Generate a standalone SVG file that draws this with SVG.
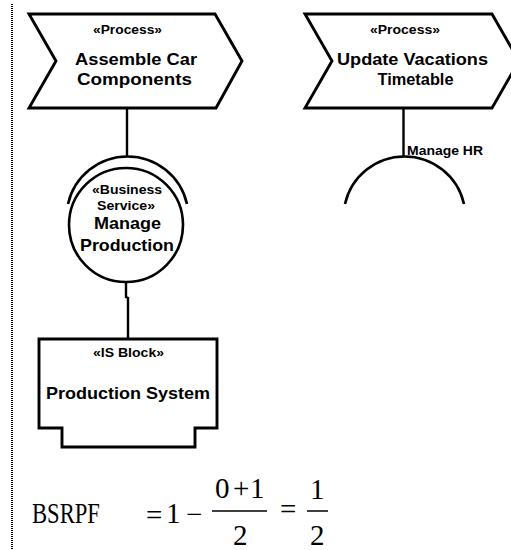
<svg xmlns="http://www.w3.org/2000/svg" width="511" height="550" viewBox="0 0 511 550">
  <style>
    .shape { fill: #ffffff; stroke: #000000; stroke-width: 2.9; stroke-linejoin: miter; }
    .ring { fill: none; stroke: #000000; stroke-width: 2.6; }
    .wire { fill: none; stroke: #000000; stroke-width: 2.4; }
    .st { font-family: "Liberation Sans", Arial, sans-serif; font-weight: bold; font-size: 12.5px; text-anchor: middle; fill: #000; }
    .nm { font-family: "Liberation Sans", Arial, sans-serif; font-weight: bold; font-size: 17px; text-anchor: middle; fill: #000; }
    .lbl { font-family: "Liberation Sans", Arial, sans-serif; font-weight: bold; font-size: 13.5px; fill: #000; }
    .math { font-family: "Liberation Serif", "Times New Roman", serif; font-size: 29px; fill: #000; }
    .bar { stroke: #000; stroke-width: 1.5; }
  </style>

  <!-- page margin -->
  <line x1="12" y1="4" x2="12" y2="550" stroke="#000" stroke-width="2" stroke-dasharray="1 1"/>

  <!-- connectors -->
  <g id="connectors">
    <line class="wire" x1="127" y1="108" x2="127" y2="156"/>
    <polyline class="wire" points="126,282 126,297 128,298 128,339"/>
    <line class="wire" x1="403.5" y1="108" x2="403.5" y2="156"/>
  </g>

  <!-- process: Assemble Car Components -->
  <g id="process-assemble">
    <polygon class="shape" points="29,14 215,14 242,61 216,108 29,108 56,61"/>
    <text class="st" x="127.5" y="34" textLength="69" lengthAdjust="spacingAndGlyphs">«Process»</text>
    <text class="nm" x="136" y="65" textLength="122" lengthAdjust="spacingAndGlyphs">Assemble Car</text>
    <text class="nm" x="134.5" y="84.5" textLength="115" lengthAdjust="spacingAndGlyphs">Components</text>
  </g>

  <!-- process: Update Vacations Timetable -->
  <g id="process-vacations">
    <polygon class="shape" points="305,14 492,14 519,61 492,108 305,108 332,61"/>
    <text class="st" x="405" y="34" textLength="70" lengthAdjust="spacingAndGlyphs">«Process»</text>
    <text class="nm" x="412.5" y="65" textLength="151" lengthAdjust="spacingAndGlyphs">Update Vacations</text>
    <text class="nm" x="415.5" y="85" textLength="76" lengthAdjust="spacingAndGlyphs">Timetable</text>
  </g>

  <!-- business service: Manage Production (provided) -->
  <g id="service-manage-production">
    <path class="ring" d="M68,204 A61,61 0 0 1 187,204"/>
    <circle class="ring" cx="126" cy="225" r="57" fill="#fff"/>
    <text class="st" x="127" y="194" font-size="13px" textLength="70" lengthAdjust="spacingAndGlyphs">«Business</text>
    <text class="st" x="126" y="210" font-size="13px" textLength="58" lengthAdjust="spacingAndGlyphs">Service»</text>
    <text class="nm" x="127.5" y="229" font-size="16px" textLength="67" lengthAdjust="spacingAndGlyphs">Manage</text>
    <text class="nm" x="127" y="251" font-size="16px" textLength="94" lengthAdjust="spacingAndGlyphs">Production</text>
  </g>

  <!-- required service: Manage HR -->
  <g id="service-manage-hr">
    <path class="ring" d="M345,204 A61,61 0 0 1 464,204"/>
    <text class="lbl" x="407" y="155" textLength="76" lengthAdjust="spacingAndGlyphs">Manage HR</text>
  </g>

  <!-- IS block: Production System -->
  <g id="is-block-production">
    <path class="shape" d="M39,339 H217 V428 H195 V447 H62 V428 H39 Z"/>
    <text class="st" x="128.5" y="357" textLength="71" lengthAdjust="spacingAndGlyphs">«IS Block»</text>
    <text class="nm" x="128" y="399" textLength="164" lengthAdjust="spacingAndGlyphs">Production System</text>
  </g>

  <!-- formula -->
  <g id="formula">
    <text class="math" transform="translate(32,523) scale(0.78,1)" font-size="30px">BSRPF</text>
    <text class="math" x="146" y="525">=</text>
    <text class="math" x="166" y="523">1</text>
    <text class="math" x="186" y="524">−</text>
    <text class="math" x="215" y="498">0</text>
    <text class="math" x="233" y="498">+</text>
    <text class="math" x="250" y="498">1</text>
    <line class="bar" x1="212" y1="511" x2="267" y2="511"/>
    <text class="math" x="233" y="545">2</text>
    <text class="math" x="280" y="519">=</text>
    <text class="math" x="310" y="499">1</text>
    <line class="bar" x1="307" y1="511" x2="328" y2="511"/>
    <text class="math" x="310" y="545">2</text>
  </g>
</svg>
